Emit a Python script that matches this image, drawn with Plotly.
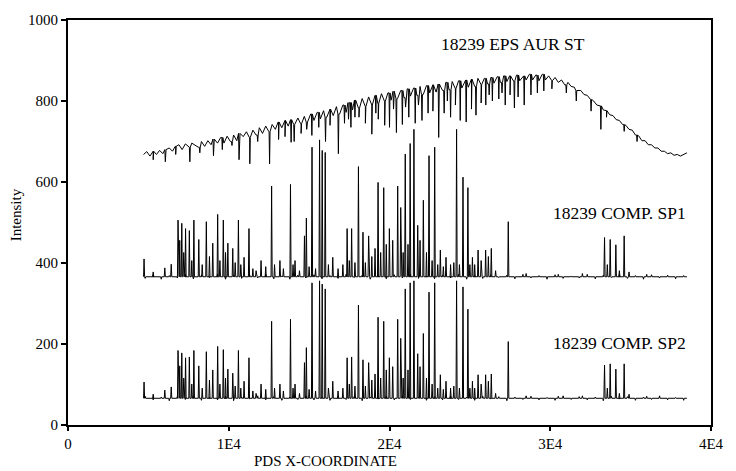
import plotly.graph_objects as go

# ---------------- data ----------------
x_tick_vals = [0, 10000, 20000, 30000, 40000]
x_tick_text = ["0", "1E4", "2E4", "3E4", "4E4"]
y_tick_vals = [0, 200, 400, 600, 800, 1000]
y_tick_text = ["0", "200", "400", "600", "800", "1000"]

# stellar spectrum (EPS AUR): continuum, sampled every 200 PDS units from 4700 to 38500
star_x = list(range(4700, 38501, 200))
star_y = [
    668, 675, 664, 676, 668, 678, 670, 680, 684, 676,
    688, 692, 680, 694, 686, 696, 690, 686, 700, 688,
    702, 692, 706, 696, 710, 696, 713, 700, 716, 702,
    720, 712, 724, 710, 728, 716, 734, 720, 738, 724,
    742, 730, 748, 734, 752, 738, 754, 742, 758, 744,
    762, 748, 768, 752, 772, 756, 776, 760, 780, 764,
    786, 768, 790, 772, 796, 778, 802, 782, 806, 786,
    810, 790, 814, 794, 818, 798, 820, 802, 824, 806,
    826, 808, 830, 812, 832, 814, 836, 816, 838, 820,
    840, 822, 842, 826, 846, 828, 848, 830, 850, 832,
    852, 834, 854, 836, 856, 840, 856, 842, 858, 844,
    860, 846, 862, 848, 862, 850, 864, 850, 862, 852,
    866, 852, 864, 850, 866, 852, 862, 850, 858, 846,
    852, 840, 846, 836, 834, 826, 826, 816, 814, 804,
    800, 790, 788, 778, 776, 766, 764, 754, 752, 742,
    740, 730, 728, 716, 714, 702, 702, 692, 692, 684,
    684, 676, 676, 670, 672, 666, 668, 664, 668, 672,
]
# absorption lines of the stellar spectrum: position and value at line bottom
star_dip_x = [
    5300, 6055, 6700, 7580, 8200, 9050, 9600, 10200, 10640, 11310,
    11800, 12540, 13100, 13500, 13880, 14070, 14500, 14850, 15170, 15600,
    16020, 16300, 16820, 17200, 17450, 17600, 17850, 18100, 18500, 18900,
    19150, 19300, 19700, 20000, 20250, 20430, 20800, 21000, 21200, 21600,
    21800, 22020, 22400, 22700, 23060, 23400, 23600, 23800, 24100, 24400,
    24770, 25100, 25380, 25700, 25990, 26200, 26400, 26800, 27000, 27200,
    27500, 27770, 28000, 28380, 28800, 29200, 29600, 30100, 31000, 31620,
    32540, 33150, 33500, 34600, 35400,
]
star_dip_y = [
    655, 650, 668, 650, 672, 665, 680, 690, 655, 645,
    700, 645, 705, 712, 698, 700, 720, 730, 715, 735,
    700, 740, 670, 745, 755, 735, 760, 760, 745, 718,
    770, 755, 740, 735, 780, 722, 742, 785, 760, 745,
    790, 752, 770, 775, 710, 770, 800, 760, 790, 752,
    748, 780, 765, 795, 790, 815, 800, 805, 820, 790,
    815, 783, 810, 790, 815, 820, 825, 830, 820, 800,
    775, 730, 760, 725, 700,
]

# comparison spectra: emission line positions and heights above baseline
comp_line_x = [
    4731, 5300, 6022, 6422, 6844, 6950, 7079, 7200, 7314, 7549,
    7700, 7831, 8136, 8350, 8605, 8800, 9005, 9310, 9450, 9662,
    9800, 9944, 10249, 10400, 10601, 10750, 10953, 11258, 11500, 11700,
    12010, 12300, 12667, 12850, 13184, 13400, 13841, 14000, 14123, 14400,
    14710, 14828, 15000, 15180, 15400, 15649, 15814, 16002, 16200, 16471,
    16800, 17100, 17364, 17500, 17645, 17850, 18068, 18350, 18500, 18702,
    18900, 19100, 19289, 19450, 19641, 19800, 19993, 20200, 20510, 20698,
    20850, 20980, 21150, 21285, 21520, 21755, 21900, 22106, 22300, 22459,
    22650, 22811, 23000, 23163, 23350, 23515, 23800, 24000, 24173, 24350,
    24572, 24877, 25000, 25159, 25300, 25511, 25700, 25981, 26150, 26333,
    26600, 27389, 28500, 30500, 32000, 33377, 33550, 33730, 34081, 34300,
    34598, 34900, 36000,
]
sp1_heights = [
    44, 12, 22, 31, 140, 90, 132, 60, 119, 114,
    40, 140, 92, 30, 136, 50, 83, 154, 40, 140,
    60, 83, 70, 35, 140, 30, 48, 119, 20, 15,
    40, 25, 224, 30, 40, 20, 228, 30, 40, 15,
    101, 145, 25, 320, 20, 338, 312, 307, 30, 48,
    20, 30, 119, 40, 119, 35, 272, 110, 35, 101,
    50, 70, 233, 60, 220, 80, 119, 90, 224, 171,
    60, 303, 80, 329, 364, 127, 90, 189, 60, 299,
    40, 320, 30, 66, 25, 48, 30, 35, 364, 30,
    246, 220, 30, 48, 30, 66, 40, 66, 50, 70,
    15, 136, 8, 6, 8, 97, 30, 92, 79, 15,
    101, 12, 6,
]
sp2_heights = [
    40, 10, 20, 28, 118, 80, 112, 50, 100, 102,
    35, 118, 80, 25, 115, 45, 70, 128, 35, 120,
    50, 72, 62, 30, 118, 25, 42, 100, 18, 12,
    35, 22, 190, 25, 35, 18, 195, 25, 35, 12,
    88, 125, 22, 285, 18, 290, 282, 270, 25, 42,
    18, 25, 100, 35, 102, 30, 230, 95, 30, 88,
    45, 60, 200, 50, 190, 70, 100, 78, 195, 148,
    50, 270, 70, 285, 290, 110, 78, 160, 50, 262,
    35, 285, 25, 58, 22, 42, 25, 30, 290, 25,
    275, 220, 25, 42, 25, 58, 35, 58, 42, 60,
    12, 140, 6, 5, 6, 82, 25, 85, 72, 12,
    85, 10, 5,
]
# small baseline wiggles, one every 500 units
noise_x = list(range(4800, 38301, 500))
sp1_noise = [
    -4, 5, -6, 3, -3, 6, -5, 4, -2, 7, -6, 3, -4, 5, -3, 6, -5, 2, -6, 4,
    -3, 5, -5, 3, -4, 6, -2, 4, -6, 3, -5, 5, -3, 6, -4, 2, -5, 4, -3, 6,
    -6, 3, -4, 5, -2, 4, -5, 6, -3, 3, -6, 5, -4, 2, -3, 6, -5, 4, -2, 5,
    -4, 3, -6, 5, -3, 4, -5, 3,
]
sp2_noise = [
    5, -4, 3, -6, 4, -3, 6, -5, 2, -4, 5, -6, 3, -2, 6, -4, 4, -5, 3, -3,
    6, -4, 2, -5, 5, -3, 4, -6, 3, -2, 5, -4, 6, -3, 2, -5, 4, -4, 6, -3,
    3, -5, 5, -2, 4, -6, 3, -3, 5, -4, 2, -5, 6, -3, 4, -4, 3, -6, 5, -2,
    4, -5, 3, -3, 6, -4, 2, -5,
]
sp1_base = 366
sp2_base = 66
comp_start, comp_end = 4700, 38500

labels_text = ["18239 EPS AUR ST", "18239 COMP. SP1", "18239 COMP. SP2"]
labels_x = [27700, 34300, 34300]
labels_y = [940, 524, 203]


def star_trace(cx, cy, dx, dy):
    pts = list(zip(cx, cy))
    for x, d in zip(dx, dy):
        # shoulder level taken from the nearest continuum sample
        i = min(range(len(cx)), key=lambda k: abs(cx[k] - x))
        v = cy[i]
        pts += [(x - 30, v), (x, d), (x + 30, v)]
    pts.sort(key=lambda p: p[0])
    return [p[0] for p in pts], [p[1] for p in pts]


def comp_trace(lx, lh, nx, nv, base):
    events = sorted(list(zip(lx, lh)) + list(zip(nx, nv)))
    xs, ys = [comp_start], [base]
    for x, h in events:
        xs += [x - 35, x, x + 35]
        ys += [base, base + h, base]
    xs.append(comp_end)
    ys.append(base)
    return xs, ys


fig = go.Figure()
line_style = dict(color="black", width=1)
sx, sy = star_trace(star_x, star_y, star_dip_x, star_dip_y)
fig.add_trace(go.Scatter(x=sx, y=sy, mode="lines", line=line_style))
x1, y1 = comp_trace(comp_line_x, sp1_heights, noise_x, sp1_noise, sp1_base)
fig.add_trace(go.Scatter(x=x1, y=y1, mode="lines", line=line_style))
x2, y2 = comp_trace(comp_line_x, sp2_heights, noise_x, sp2_noise, sp2_base)
fig.add_trace(go.Scatter(x=x2, y=y2, mode="lines", line=line_style))

font_family = "Liberation Serif, DejaVu Serif, serif"
for t, x, y in zip(labels_text, labels_x, labels_y):
    fig.add_annotation(x=x, y=y, text=t, showarrow=False, xref="x", yref="y",
                       font=dict(family=font_family, size=17.5, color="black"))

fig.add_annotation(x=-0.081, y=0.52, xref="paper", yref="paper", text="Intensity",
                   textangle=-90, showarrow=False, xanchor="center", yanchor="middle",
                   font=dict(family=font_family, size=15, color="black"))
fig.add_annotation(x=0.40, y=-0.088, xref="paper", yref="paper", text="PDS X-COORDINATE",
                   showarrow=False, xanchor="center", yanchor="middle",
                   font=dict(family=font_family, size=15, color="black"))

fig.update_layout(
    width=736, height=471,
    margin=dict(l=68, r=14, t=15, b=46),
    paper_bgcolor="white", plot_bgcolor="white",
    showlegend=False,
    font=dict(family=font_family, size=15, color="black"),
)
fig.update_xaxes(range=[0, 40000], tickvals=x_tick_vals, ticktext=x_tick_text,
                 showgrid=False, zeroline=False, showline=True, linecolor="black",
                 linewidth=2, mirror=True, ticks="outside", ticklen=4, tickwidth=1.5,
                 tickcolor="black")
fig.update_yaxes(range=[0, 1000], tickvals=y_tick_vals, ticktext=y_tick_text,
                 showgrid=False, zeroline=False, showline=True, linecolor="black",
                 linewidth=2, mirror=True, ticks="outside", ticklen=5, tickwidth=1.5,
                 tickcolor="black")

fig.write_html("out.html")
